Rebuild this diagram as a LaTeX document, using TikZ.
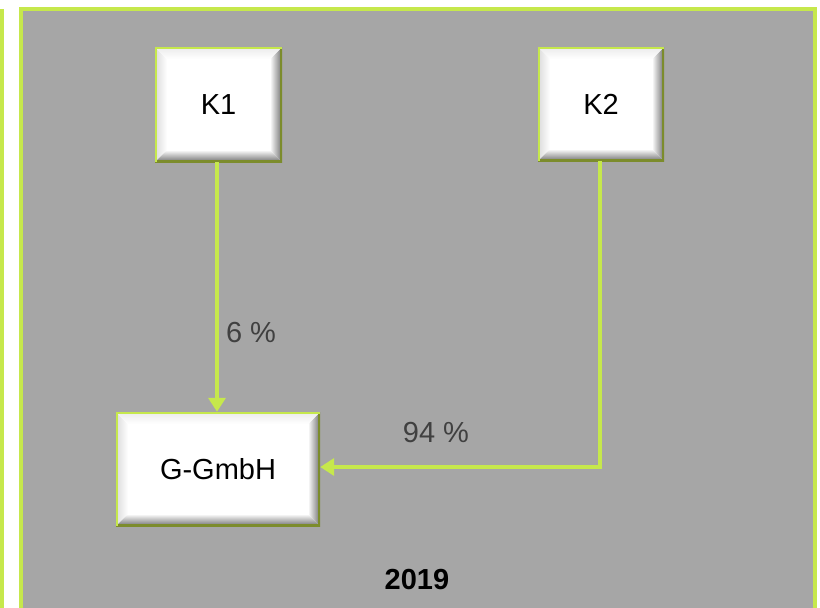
\documentclass[tikz,border=0pt]{standalone}
\usepackage{fontspec}
\setmainfont{Liberation Sans}
\usetikzlibrary{arrows.meta,calc}
\definecolor{bggray}{HTML}{A6A6A6}
\definecolor{lgreen}{HTML}{C6E84C}
\definecolor{olivee}{HTML}{7C8C2C}
\definecolor{txtgray}{HTML}{404040}
\definecolor{bevdark}{HTML}{707070}
\definecolor{bevmid}{HTML}{B0B0B0}
\tikzset{
  bevelbox/.style={fill=white, draw=none, inner sep=0pt,
    font=\fontsize{29}{35}\selectfont,
    path picture={
      \coordinate (bsw) at (path picture bounding box.south west);
      \coordinate (bse) at (path picture bounding box.south east);
      \coordinate (bnw) at (path picture bounding box.north west);
      \coordinate (bne) at (path picture bounding box.north east);
      % left bevel
      \shade[left color=bevmid!45, right color=white]
        (bsw) -- (bnw) -- ($(bnw)+(12pt,-12pt)$) -- ($(bsw)+(12pt,12pt)$) -- cycle;
      % right bevel
      \shade[left color=white, right color=bevdark]
        (bse) -- (bne) -- ($(bne)+(-12pt,-12pt)$) -- ($(bse)+(-12pt,12pt)$) -- cycle;
      % bottom bevel
      \shade[top color=white, bottom color=bevdark]
        (bsw) -- (bse) -- ($(bse)+(-12pt,12pt)$) -- ($(bsw)+(12pt,12pt)$) -- cycle;
      % top bevel
      \shade[top color=white!92!black, bottom color=white]
        (bnw) -- (bne) -- ($(bne)+(-12pt,-12pt)$) -- ($(bnw)+(12pt,-12pt)$) -- cycle;
      \draw[olivee, line width=4pt] (bne) -- (bse) -- (bsw);
      \draw[lgreen, line width=4pt] (bsw) -- (bnw) -- (bne);
    }},
  conn/.style={lgreen, line width=3.5pt, -{Triangle[width=17pt,length=14pt]}},
  lbl/.style={text=txtgray, font=\fontsize{29}{35}\selectfont, inner sep=0pt},
}
\begin{document}
\begin{tikzpicture}[x=1pt,y=-1pt]
\useasboundingbox (0,0) rectangle (820,608);
% left neighbour panel edge
\draw[lgreen, line width=4pt] (2,9) -- (2,630);
% main panel
\path[fill=bggray, draw=lgreen, line width=4pt] (20.5,9) rectangle (815,640);

\node[bevelbox, minimum width=127pt, minimum height=115pt] (K1) at (218.5,104.5) {K1};
\node[bevelbox, minimum width=126pt, minimum height=114pt] (K2) at (601,104) {K2};
\node[bevelbox, minimum width=204pt, minimum height=114pt] (G) at (218,469) {G-GmbH};

\draw[conn] (K1.south -| 217,0) -- (G.north -| 217,0);
\coordinate (k2b) at ($(K2.south)+(-1pt,0)$);
\coordinate (gin) at ($(G.east)+(0,2pt)$);
\draw[conn] (k2b) |- (gin);

\node[lbl] (l6) at (251,333) {6 \%};
\node[lbl] (l94) at (436,433) {94 \%};
\node[font=\fontsize{29}{35}\selectfont\bfseries, inner sep=0pt] (yr) at (417,580) {2019};
\end{tikzpicture}
\end{document}
